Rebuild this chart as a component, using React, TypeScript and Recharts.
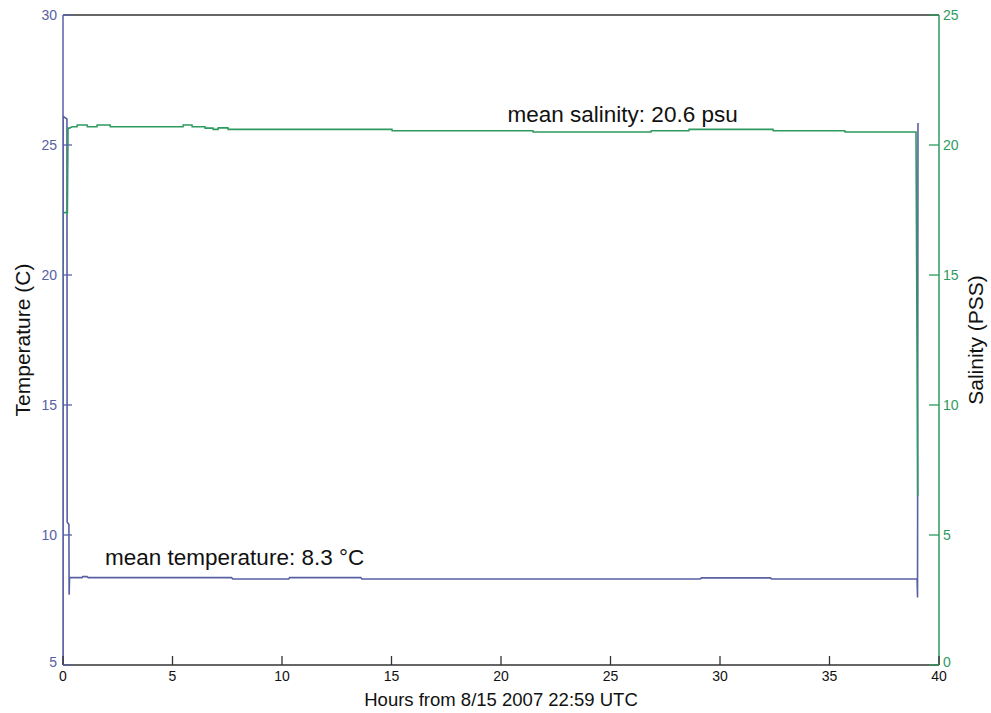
import React from 'react';
import { LineChart, Line, XAxis, YAxis, ReferenceLine, ReferenceDot } from 'recharts';

// x axis (hours) and the two y axes
const hourTicks = [0, 5, 10, 15, 20, 25, 30, 35, 40];
const tempTicks = [5, 10, 15, 20, 25, 30];
const salTicks = [0, 5, 10, 15, 20, 25];

// temperature record (C)
const tempHours = [0, 0.005, 0.18, 0.19, 0.27, 0.28, 0.3, 0.87, 0.9, 1.1, 1.15, 7.7, 7.75, 10.3, 10.35, 13.6, 13.65, 29.1, 29.15, 32.3, 32.35, 39.0, 39.02, 39.04];
const tempC = [5, 26.1, 26.0, 10.5, 10.4, 7.7, 8.36, 8.36, 8.4, 8.4, 8.36, 8.36, 8.31, 8.31, 8.36, 8.36, 8.31, 8.31, 8.35, 8.35, 8.31, 8.31, 7.6, 25.85];

// salinity record (PSS)
const salHours = [0, 0.005, 0.2, 0.23, 0.3, 0.41, 0.64, 0.65, 1.1, 1.11, 1.55, 1.56, 2.15, 2.16, 5.48, 5.49, 5.89, 5.9, 6.48, 6.49, 6.85, 6.86, 7.08, 7.09, 7.53, 7.54, 15.02, 15.03, 21.46, 21.47, 26.85, 26.86, 28.58, 28.59, 32.42, 32.43, 35.7, 35.71, 38.95, 39.03];
const salPSS = [9.9, 17.4, 17.4, 20.65, 20.65, 20.7, 20.7, 20.77, 20.77, 20.7, 20.7, 20.77, 20.77, 20.7, 20.7, 20.77, 20.77, 20.7, 20.7, 20.65, 20.65, 20.6, 20.6, 20.66, 20.66, 20.6, 20.6, 20.55, 20.55, 20.5, 20.5, 20.55, 20.55, 20.6, 20.6, 20.55, 20.55, 20.5, 20.5, 6.5];

const tempData = tempHours.map((t, i) => ({ t, v: tempC[i] }));
const salData = salHours.map((t, i) => ({ t, v: salPSS[i] }));

const TEMP_COLOR = '#5860a4';
const SAL_COLOR = '#2e9a5e';
const AXIS_DARK = '#333';
const FONT = '"Liberation Sans Narrow", "Liberation Sans", Arial, sans-serif';
const LABEL_FONT = '"Liberation Sans", Arial, sans-serif';

// ticks point into the plot, so draw the line and text ourselves
// (the lowest label sits a little higher, clear of the hour labels)
const LeftTick = (props: any) => {
  const { x, y, payload } = props;
  const lift = payload.value === tempTicks[0] ? -3 : 0;
  return (
    <g>
      <line x1={x} y1={y} x2={x + 9} y2={y} stroke={TEMP_COLOR} strokeWidth={1.3} />
      <text x={x - 6} y={y + lift} dy="0.36em" textAnchor="end" fill={TEMP_COLOR} fontSize={14} fontFamily={FONT}>
        {payload.value}
      </text>
    </g>
  );
};

const RightTick = (props: any) => {
  const { x, y, payload } = props;
  const lift = payload.value === salTicks[0] ? -3 : 0;
  return (
    <g>
      <line x1={x} y1={y} x2={x - 10} y2={y} stroke={SAL_COLOR} strokeWidth={1.3} />
      <text x={x + 4} y={y + lift} dy="0.36em" textAnchor="start" fill={SAL_COLOR} fontSize={14} fontFamily={FONT}>
        {payload.value}
      </text>
    </g>
  );
};

const BottomTick = (props: any) => {
  const { x, y, payload } = props;
  return (
    <g>
      <line x1={x} y1={y} x2={x} y2={y - 9} stroke={AXIS_DARK} strokeWidth={1.3} />
      <text x={x} y={y + 16} textAnchor="middle" fill="#111" fontSize={14} fontFamily={FONT}>
        {payload.value}
      </text>
    </g>
  );
};

const sideLabel = (text: string, cx: number) => (props: any) => {
  const vb = props.viewBox || { y: 15, height: 650 };
  const cy = vb.y + vb.height / 2;
  return (
    <text
      transform={`translate(${cx}, ${cy}) rotate(-90)`}
      textAnchor="middle"
      dominantBaseline="central"
      fill="#111"
      fontSize={21}
      fontFamily={LABEL_FONT}
    >
      {text}
    </text>
  );
};

const note = (text: string) => (props: any) => {
  const vb = props.viewBox || { x: 0, y: 0 };
  return (
    <text x={vb.x} y={vb.y} fill="#111" fontSize={22.5} fontFamily={LABEL_FONT}>
      {text}
    </text>
  );
};

export default function App() {
  return (
    <div style={{ position: 'absolute', left: 0, top: 0, background: '#fff' }}>
      <LineChart width={991} height={713} margin={{ top: 15, right: 0, bottom: 0, left: 0 }}>
        <XAxis
          dataKey="t"
          type="number"
          domain={[0, 40]}
          ticks={hourTicks}
          allowDataOverflow
          height={48}
          stroke={AXIS_DARK}
          strokeWidth={1.5}
          tickLine={false}
          tickSize={0}
          tickMargin={0}
          tick={(p: any) => <BottomTick {...p} />}
          label={{
            value: 'Hours from 8/15 2007 22:59 UTC',
            position: 'insideBottom',
            offset: 7,
            style: { fill: '#111', fontSize: 18.5, fontFamily: LABEL_FONT },
          }}
        />
        <YAxis
          yAxisId="temp"
          orientation="left"
          type="number"
          domain={[5, 30]}
          ticks={tempTicks}
          allowDataOverflow
          width={63}
          stroke={TEMP_COLOR}
          strokeWidth={1.5}
          tickLine={false}
          tickSize={0}
          tickMargin={0}
          tick={(p: any) => <LeftTick {...p} />}
          label={{ content: sideLabel('Temperature (C)', 22) }}
        />
        <YAxis
          yAxisId="sal"
          orientation="right"
          type="number"
          domain={[0, 25]}
          ticks={salTicks}
          allowDataOverflow
          width={52}
          stroke={SAL_COLOR}
          strokeWidth={1.5}
          tickLine={false}
          tickSize={0}
          tickMargin={0}
          tick={(p: any) => <RightTick {...p} />}
          label={{ content: sideLabel('Salinity (PSS)', 975) }}
        />
        <ReferenceLine yAxisId="temp" y={30} stroke={AXIS_DARK} strokeWidth={1.5} />
        <Line
          yAxisId="temp"
          data={tempData}
          dataKey="v"
          type="linear"
          stroke={TEMP_COLOR}
          strokeWidth={1.6}
          dot={false}
          isAnimationActive={false}
        />
        <Line
          yAxisId="sal"
          data={salData}
          dataKey="v"
          type="linear"
          stroke={SAL_COLOR}
          strokeWidth={1.6}
          dot={false}
          isAnimationActive={false}
        />
        <ReferenceDot yAxisId="sal" x={20.3} y={20.88} r={0} fill="none" stroke="none" label={{ content: note('mean salinity: 20.6 psu') }} />
        <ReferenceDot yAxisId="temp" x={1.92} y={8.85} r={0} fill="none" stroke="none" label={{ content: note('mean temperature: 8.3 °C') }} />
      </LineChart>
    </div>
  );
}
